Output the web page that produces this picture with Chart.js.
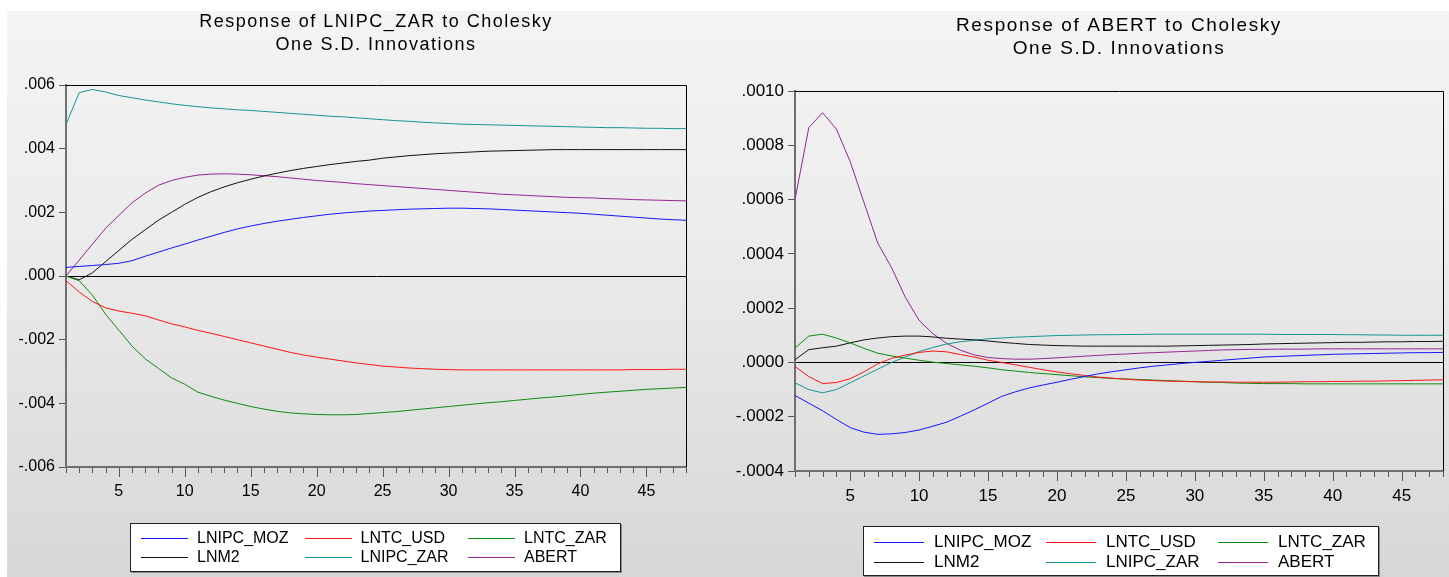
<!DOCTYPE html>
<html>
<head>
<meta charset="utf-8">
<script src="https://cdn.jsdelivr.net/npm/chart.js@4.4.1/dist/chart.umd.min.js"></script>
<style>
  html, body { margin: 0; padding: 0; background: #fff; }
  #page { position: relative; width: 1449px; height: 577px; overflow: hidden; font-family: Arial, "Liberation Sans", sans-serif; }
  #fondo { position: absolute; left: 7px; top: 11px; right: 0; bottom: 0;
           background: linear-gradient(to bottom, #f4f4f4 0%, #ececec 40%, #d7d7d7 100%); }
  .panel { position: absolute; top: 0; height: 577px; }
  .leyenda { position: absolute; background: #fff; border: 1px solid #222; box-shadow: 1px 1px 0 #8a8a8a; box-sizing: border-box; }
  .item { position: absolute; white-space: nowrap; color: #000; }
  .item span.linea { position: absolute; left: 0; height: 1px; }
  .item span.txt { position: absolute; }
</style>
</head>
<body>
<div id="page">
  <div id="fondo"></div>
  <div class="panel" style="left:0;width:700px"><canvas id="graficaZar" width="700" height="577"></canvas></div>
  <div class="panel" style="left:700px;width:749px"><canvas id="graficaAbert" width="749" height="577"></canvas></div>
  <div id="leyendaZar" class="leyenda" style="left:130px;top:523px;width:491px;height:49px"></div>
  <div id="leyendaAbert" class="leyenda" style="left:863px;top:526px;width:516px;height:50px"></div>
</div>
<script>
// Periodos (horizonte de la respuesta)
const periodos = [1,2,3,4,5,6,7,8,9,10,11,12,13,14,15,16,17,18,19,20,21,22,23,24,
  25,26,27,28,29,30,31,32,33,34,35,36,37,38,39,40,41,42,43,44,45,46,47,48];

const nombres = ['LNIPC_MOZ', 'LNTC_USD', 'LNTC_ZAR', 'LNM2', 'LNIPC_ZAR', 'ABERT'];
const colores = ['#1515ff', '#ff1414', '#0c8c0c', '#111111', '#169494', '#942494'];

// Respuesta de LNIPC_ZAR
const zarLnipcMoz = [0.00027,0.0003,0.00033,0.00036,0.0004,0.00048,0.00062,0.00075,0.00088,0.001,
  0.00113,0.00125,0.00137,0.00148,0.00157,0.00165,0.00172,0.00178,0.00184,0.00189,
  0.00194,0.00198,0.00201,0.00204,0.00206,0.00208,0.0021,0.00211,0.00212,0.00213,
  0.00213,0.00212,0.00211,0.00209,0.00207,0.00205,0.00203,0.00201,0.00199,0.00197,
  0.00194,0.00191,0.00188,0.00185,0.00182,0.00179,0.00177,0.00175];
const zarLntcUsd = [-0.00015,-0.0005,-0.0008,-0.001,-0.0011,-0.00117,-0.00125,-0.00138,-0.0015,-0.0016,
  -0.00171,-0.0018,-0.0019,-0.002,-0.0021,-0.0022,-0.0023,-0.0024,-0.00248,-0.00255,
  -0.00261,-0.00267,-0.00273,-0.00278,-0.00283,-0.00286,-0.00289,-0.00291,-0.00293,-0.00294,
  -0.00295,-0.00295,-0.00295,-0.00295,-0.00295,-0.00295,-0.00295,-0.00295,-0.00295,-0.00295,
  -0.00295,-0.00295,-0.00295,-0.00294,-0.00294,-0.00294,-0.00293,-0.00293];
const zarLntcZar = [0,-0.00015,-0.0006,-0.0012,-0.0017,-0.0022,-0.0026,-0.0029,-0.0032,-0.0034,
  -0.00365,-0.00378,-0.0039,-0.004,-0.0041,-0.00418,-0.00425,-0.0043,-0.00433,-0.00435,
  -0.00436,-0.00436,-0.00435,-0.00432,-0.00429,-0.00426,-0.00422,-0.00418,-0.00414,-0.0041,
  -0.00406,-0.00402,-0.00398,-0.00395,-0.00391,-0.00387,-0.00383,-0.0038,-0.00376,-0.00372,
  -0.00368,-0.00365,-0.00362,-0.00359,-0.00356,-0.00354,-0.00352,-0.0035];
const zarLnm2 = [0,-0.00012,0.0001,0.00045,0.0008,0.00115,0.00145,0.00175,0.002,0.00225,
  0.00247,0.00265,0.0028,0.00293,0.00304,0.00314,0.00323,0.00331,0.00338,0.00344,
  0.0035,0.00355,0.0036,0.00364,0.0037,0.00374,0.00378,0.00381,0.00384,0.00386,
  0.00388,0.0039,0.00392,0.00393,0.00394,0.00395,0.00396,0.00397,0.00397,0.00397,
  0.00397,0.00397,0.00397,0.00397,0.00397,0.00397,0.00397,0.00397];
const zarLnipcZar = [0.00476,0.00576,0.00586,0.00578,0.00567,0.0056,0.00553,0.00547,0.00541,0.00536,
  0.00532,0.00528,0.00525,0.00522,0.0052,0.00517,0.00514,0.00511,0.00508,0.00505,
  0.00502,0.005,0.00497,0.00494,0.00491,0.00488,0.00486,0.00483,0.00481,0.00479,
  0.00477,0.00476,0.00475,0.00474,0.00473,0.00472,0.00471,0.0047,0.00469,0.00468,
  0.00467,0.00466,0.00466,0.00465,0.00464,0.00464,0.00463,0.00463];
const zarAbert = [0,0.0005,0.001,0.0015,0.0019,0.0023,0.0026,0.00285,0.003,0.0031,
  0.00317,0.0032,0.00321,0.0032,0.00318,0.00315,0.00312,0.00308,0.00304,0.003,
  0.00297,0.00294,0.0029,0.00287,0.00284,0.00281,0.00278,0.00275,0.00272,0.00269,
  0.00266,0.00263,0.0026,0.00257,0.00255,0.00253,0.00251,0.00249,0.00247,0.00246,
  0.00245,0.00243,0.00242,0.0024,0.00239,0.00238,0.00237,0.00236];

// Respuesta de ABERT
const abLnipcMoz = [-0.000122,-0.00015,-0.000178,-0.00021,-0.00024,-0.000257,-0.000265,-0.000263,-0.000258,-0.000249,
  -0.000235,-0.00022,-0.000198,-0.000175,-0.00015,-0.000125,-0.000108,-0.000094,-0.000083,-0.000073,
  -0.000062,-0.000052,-0.000042,-0.000034,-0.000027,-0.00002,-0.000014,-0.000009,-0.000004,0,
  0.000004,0.000008,0.000012,0.000016,0.00002,0.000022,0.000024,0.000026,0.000028,0.00003,
  0.000031,0.000032,0.000033,0.000034,0.000035,0.000036,0.000036,0.000037];
const abLntcUsd = [-0.000015,-0.000052,-0.000078,-0.000074,-0.00006,-0.000035,-0.000005,0.000015,0.000027,0.000037,
  0.000042,0.000039,0.000029,0.00002,0.000008,0,-0.000009,-0.000018,-0.000027,-0.000035,
  -0.000042,-0.000048,-0.000054,-0.000058,-0.000062,-0.000065,-0.000067,-0.000069,-0.00007,-0.000071,
  -0.000072,-0.000072,-0.000073,-0.000073,-0.000073,-0.000073,-0.000072,-0.000071,-0.000071,-0.00007,
  -0.00007,-0.000069,-0.000069,-0.000068,-0.000067,-0.000066,-0.000065,-0.000064];
const abLntcZar = [0.000053,0.000097,0.000104,0.00009,0.000072,0.000052,0.000034,0.000024,0.000016,0.000008,
  0.000001,-0.000004,-0.000009,-0.000014,-0.00002,-0.000027,-0.000032,-0.000037,-0.000041,-0.000045,
  -0.000049,-0.000053,-0.000056,-0.000059,-0.000061,-0.000063,-0.000065,-0.000067,-0.000069,-0.000071,
  -0.000073,-0.000074,-0.000076,-0.000077,-0.000078,-0.000078,-0.000078,-0.000079,-0.000079,-0.000079,
  -0.000079,-0.000079,-0.000079,-0.000079,-0.000079,-0.000079,-0.000079,-0.000079];
const abLnm2 = [0.00001,0.000047,0.000054,0.00006,0.000072,0.000083,0.00009,0.000095,0.000097,0.000097,
  0.000094,0.000089,0.000086,0.000083,0.000079,0.000074,0.00007,0.000066,0.000064,0.000062,
  0.000061,0.00006,0.00006,0.00006,0.00006,0.00006,0.00006,0.00006,0.000061,0.000062,
  0.000063,0.000064,0.000065,0.000066,0.000068,0.000069,0.00007,0.000071,0.000072,0.000073,
  0.000074,0.000074,0.000075,0.000076,0.000076,0.000077,0.000077,0.000078];
const abLnipcZar = [-0.000075,-0.0001,-0.000112,-0.0001,-0.000075,-0.00005,-0.000025,0,0.00002,0.00004,
  0.000055,0.000068,0.000076,0.000082,0.000087,0.00009,0.000093,0.000095,0.000097,0.000099,
  0.0001,0.000101,0.000102,0.000102,0.000103,0.000103,0.000104,0.000104,0.000104,0.000104,
  0.000104,0.000104,0.000104,0.000104,0.000104,0.000103,0.000103,0.000103,0.000103,0.000103,
  0.000102,0.000102,0.000101,0.000101,0.0001,0.0001,0.0001,0.0001];
const abAbert = [0.0006,0.000865,0.00092,0.00086,0.00074,0.00059,0.00044,0.00035,0.00024,0.000155,
  0.000106,0.00007,0.000045,0.000028,0.000018,0.000014,0.000012,0.000012,0.000014,0.000017,
  0.00002,0.000023,0.000026,0.000029,0.000031,0.000034,0.000036,0.000038,0.00004,0.000042,
  0.000044,0.000046,0.000047,0.000048,0.000048,0.000049,0.000049,0.000049,0.00005,0.00005,
  0.00005,0.00005,0.00005,0.00005,0.00005,0.00005,0.00005,0.00005];

// Marco superior/derecho, marcas del eje X y título centrado sobre el área
const marcoPlugin = {
  id: 'marco',
  afterDraw(chart) {
    const { ctx, chartArea: a, scales } = chart;
    const o = chart.options.plugins.marco;
    ctx.save();
    ctx.strokeStyle = '#000';
    ctx.lineWidth = 1;
    ctx.beginPath();
    ctx.moveTo(a.left, a.top + 0.5);
    ctx.lineTo(a.right + 0.5, a.top + 0.5);
    ctx.lineTo(a.right + 0.5, a.bottom);
    ctx.stroke();

    ctx.strokeStyle = '#555';
    ctx.beginPath();
    periodos.forEach((p, i) => {
      const px = Math.round(scales.x.getPixelForValue(i)) + 0.5;
      const largo = p % 5 === 0 ? 9 : 5;
      ctx.moveTo(px, a.bottom + 1);
      ctx.lineTo(px, a.bottom + 1 + largo);
    });
    ctx.stroke();

    ctx.fillStyle = '#000';
    ctx.font = o.fuente;
    ctx.letterSpacing = o.espaciado;
    ctx.textAlign = 'center';
    ctx.textBaseline = 'alphabetic';
    const cx = (a.left + a.right) / 2;
    o.titulo.forEach((t, i) => ctx.fillText(t, cx, o.lineas[i]));
    ctx.restore();
  }
};

function crearGrafica(idCanvas, series, cfg) {
  const ctx = document.getElementById(idCanvas).getContext('2d');
  return new Chart(ctx, {
    type: 'line',
    data: {
      labels: periodos,
      datasets: series.map((datos, i) => ({
        label: nombres[i],
        data: datos,
        borderColor: colores[i],
        borderWidth: 1,
        pointRadius: 0,
        tension: 0,
        fill: false
      }))
    },
    options: {
      responsive: false,
      animation: false,
      layout: { padding: cfg.padding },
      plugins: {
        legend: { display: false },
        tooltip: { enabled: false },
        marco: { titulo: cfg.titulo, lineas: cfg.lineas, fuente: cfg.fuenteTitulo, espaciado: cfg.espaciado }
      },
      scales: {
        x: {
          type: 'category',
          offset: false,
          afterFit: s => { s.height = 40; },
          grid: { display: true, drawOnChartArea: false, drawTicks: true, tickLength: 9, tickColor: 'rgba(0,0,0,0)' },
          border: { display: true, color: '#707070', width: 2 },
          ticks: {
            autoSkip: false, maxRotation: 0, padding: 6, color: '#000',
            font: { family: 'Arial, "Liberation Sans"', size: cfg.fuenteEje },
            callback: (v, i) => (periodos[i] % 5 === 0 ? String(periodos[i]) : '')
          }
        },
        y: {
          min: cfg.yMin, max: cfg.yMax,
          afterFit: s => { s.width = cfg.anchoY; },
          grid: {
            drawOnChartArea: true, drawTicks: true, tickLength: 7, tickColor: '#555',
            color: c => (c.tick && Math.abs(c.tick.value) < 1e-12 ? '#000' : 'rgba(0,0,0,0)')
          },
          border: { display: true, color: '#707070', width: 2 },
          ticks: {
            stepSize: cfg.paso, padding: 4, color: '#000',
            font: { family: 'Arial, "Liberation Sans"', size: cfg.fuenteEje },
            callback: v => Number(v).toFixed(cfg.decimales).replace('0.', '.')
          }
        }
      }
    },
    plugins: [marcoPlugin]
  });
}

function crearLeyenda(idDiv, cfg) {
  const div = document.getElementById(idDiv);
  nombres.forEach((n, i) => {
    const col = i % 3, fila = Math.floor(i / 3);
    const item = document.createElement('div');
    item.className = 'item';
    item.style.left = (cfg.x0 + col * cfg.anchoCol) + 'px';
    item.style.top = (cfg.y0 + fila * cfg.altoFila) + 'px';
    item.style.fontSize = cfg.fuente + 'px';
    item.innerHTML = '<span class="linea" style="width:' + cfg.largo + 'px;top:0;background:' + colores[i] + '"></span>' +
      '<span class="txt" style="left:' + cfg.texto + 'px;top:' + (-cfg.fuente * 0.58) + 'px">' + n + '</span>';
    div.appendChild(item);
  });
}

crearGrafica('graficaZar',
  [zarLnipcMoz, zarLntcUsd, zarLntcZar, zarLnm2, zarLnipcZar, zarAbert],
  {
    padding: { left: 0, top: 85, right: 14, bottom: 70 },
    anchoY: 66, yMin: -0.006, yMax: 0.006, paso: 0.002, decimales: 3, fuenteEje: 16,
    titulo: ['Response of LNIPC_ZAR to Cholesky', 'One S.D. Innovations'],
    lineas: [27, 50], fuenteTitulo: '18px Arial, "Liberation Sans"', espaciado: '1.5px'
  });

crearGrafica('graficaAbert',
  [abLnipcMoz, abLntcUsd, abLntcZar, abLnm2, abLnipcZar, abAbert],
  {
    padding: { left: 0, top: 91, right: 2, bottom: 66 },
    anchoY: 95, yMin: -0.0004, yMax: 0.001, paso: 0.0002, decimales: 4, fuenteEje: 17,
    titulo: ['Response of ABERT to Cholesky', 'One S.D. Innovations'],
    lineas: [31, 54], fuenteTitulo: '19px Arial, "Liberation Sans"', espaciado: '1.6px'
  });

crearLeyenda('leyendaZar', { x0: 10, y0: 14, anchoCol: 163.5, altoFila: 19, largo: 47, texto: 56, fuente: 16 });
crearLeyenda('leyendaAbert', { x0: 10, y0: 15, anchoCol: 172, altoFila: 20, largo: 50, texto: 60, fuente: 17 });
</script>
</body>
</html>
